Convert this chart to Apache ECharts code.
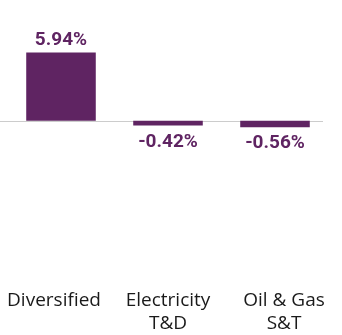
<!DOCTYPE html>
<html>
<head>
<meta charset="utf-8">
<script src="https://cdn.jsdelivr.net/npm/echarts@6/dist/echarts.min.js"></script>
<style>html,body{margin:0;padding:0;background:#fff;}#c{width:342px;height:335px;}</style>
</head>
<body>
<div id="c"></div>
<script>
const categories = ['Diversified', 'Electricity\nT&D', 'Oil & Gas\nS&T'];
const values = [5.94, -0.42, -0.56];

const purple = '#5f2462';
const chart = echarts.init(document.getElementById('c'), null, {renderer: 'canvas'});
chart.setOption({
  animation: false,
  grid: {left: 7.5, right: 13.5, top: 6, bottom: 53},
  xAxis: {
    type: 'category',
    data: categories.map((c, i) => ({
      value: c,
      textStyle: i === 0 ? {padding: [0, 14, 0, 0]} : (i === 2 ? {padding: [0, 0, 0, 18]} : {})
    })),
    axisLine: {show: false, onZero: false},
    axisTick: {show: false},
    axisLabel: {
      interval: 0, margin: 10, color: '#1a1a1a',
      fontFamily: 'Open Sans', fontSize: 19, lineHeight: 23
    }
  },
  yAxis: {
    type: 'value', min: -13.79, max: 10, show: false,
    splitLine: {show: false}
  },
  series: [{
    type: 'bar',
    barWidth: '65%',
    itemStyle: {color: purple},
    data: values.map(v => ({value: v, label: {position: v < 0 ? 'bottom' : 'top', distance: v < 0 ? 7 : 3}})),
    label: {
      show: true,
      formatter: p => p.value.toFixed(2) + '%',
      color: purple, fontFamily: 'Roboto', fontWeight: 'bold', fontSize: 19
    },
    markLine: {
      silent: true, symbol: 'none', z: 1,
      lineStyle: {color: '#cccccc', width: 1, type: 'solid'},
      label: {show: false},
      data: [[{x: 0, yAxis: 0}, {x: 323, yAxis: 0}]]
    }
  }]
});
</script>
</body>
</html>
